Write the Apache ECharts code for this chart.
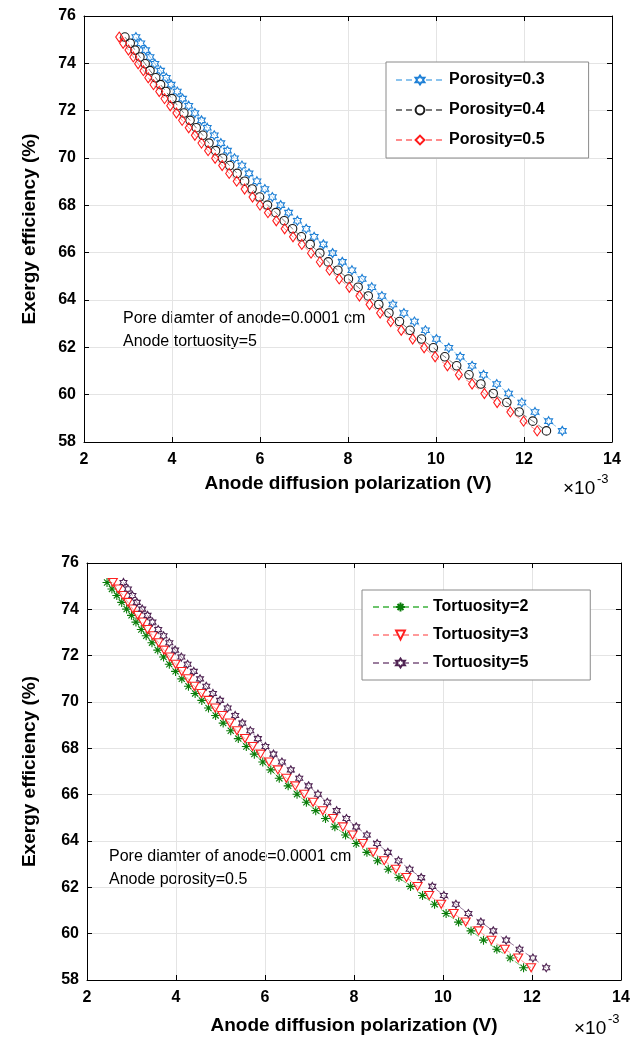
<!DOCTYPE html>
<html>
<head>
<meta charset="utf-8">
<script src="https://cdn.jsdelivr.net/npm/echarts@6/dist/echarts.min.js"></script>
<style>
html, body { margin: 0; padding: 0; background: #fff; }
#chart { width: 635px; height: 1039px; }
</style>
</head>
<body>
<div id="chart"></div>
<script>
// exergy efficiency (%) at each point
var yTop = [75.11, 74.85, 74.56, 74.27, 73.98, 73.69, 73.39, 73.10, 72.81, 72.51,
    72.21, 71.90, 71.59, 71.28, 70.96, 70.63, 70.31, 69.99, 69.68, 69.35,
    69.02, 68.69, 68.35, 68.01, 67.69, 67.35, 67.01, 66.67, 66.35, 65.98,
    65.61, 65.26, 64.89, 64.54, 64.17, 63.81, 63.45, 63.09, 62.72, 62.35,
    61.98, 61.60, 61.22, 60.84, 60.45, 60.05, 59.67, 59.27, 58.88, 58.47];
var yBottom = [75.16, 74.88, 74.60, 74.30, 74.01, 73.74, 73.45, 73.13, 72.86, 72.56,
    72.24, 71.94, 71.63, 71.32, 71.00, 70.68, 70.37, 70.07, 69.74, 69.42,
    69.09, 68.76, 68.42, 68.08, 67.75, 67.41, 67.07, 66.71, 66.38, 66.02,
    65.67, 65.31, 64.97, 64.61, 64.26, 63.89, 63.51, 63.15, 62.78, 62.42,
    62.04, 61.65, 61.27, 60.87, 60.50, 60.12, 59.72, 59.33, 58.95, 58.53];

// anode diffusion polarization (x 10^-3 V)
var xPorosity03 = [3.18, 3.29, 3.40, 3.50, 3.61, 3.74, 3.87, 3.98, 4.12, 4.24,
    4.38, 4.52, 4.67, 4.80, 4.96, 5.11, 5.26, 5.42, 5.59, 5.75,
    5.93, 6.11, 6.28, 6.47, 6.65, 6.85, 7.05, 7.23, 7.44, 7.65,
    7.87, 8.09, 8.32, 8.54, 8.77, 9.02, 9.27, 9.51, 9.76, 10.01,
    10.29, 10.55, 10.82, 11.08, 11.38, 11.65, 11.95, 12.25, 12.56, 12.87];
var xPorosity04 = [2.93, 3.05, 3.16, 3.27, 3.39, 3.50, 3.63, 3.74, 3.86, 4.00,
    4.13, 4.27, 4.41, 4.55, 4.70, 4.84, 4.99, 5.15, 5.31, 5.48,
    5.65, 5.82, 5.99, 6.17, 6.36, 6.55, 6.74, 6.94, 7.14, 7.36,
    7.55, 7.77, 8.01, 8.23, 8.46, 8.70, 8.93, 9.17, 9.41, 9.67,
    9.94, 10.20, 10.47, 10.75, 11.02, 11.30, 11.61, 11.89, 12.20, 12.51];
var xPorosity05 = [2.80, 2.89, 3.01, 3.12, 3.23, 3.35, 3.46, 3.58, 3.71, 3.83,
    3.96, 4.10, 4.23, 4.38, 4.52, 4.67, 4.82, 4.98, 5.14, 5.30,
    5.47, 5.65, 5.83, 6.00, 6.18, 6.37, 6.56, 6.75, 6.95, 7.16,
    7.36, 7.58, 7.80, 8.03, 8.26, 8.49, 8.73, 8.97, 9.21, 9.47,
    9.73, 9.98, 10.26, 10.52, 10.82, 11.10, 11.39, 11.69, 11.99, 12.30];

var xTortuosity2 = [2.45, 2.56, 2.67, 2.78, 2.89, 3.00, 3.10, 3.22, 3.33, 3.46,
    3.59, 3.72, 3.85, 3.99, 4.13, 4.28, 4.43, 4.58, 4.73, 4.89,
    5.06, 5.23, 5.40, 5.58, 5.76, 5.95, 6.13, 6.32, 6.52, 6.72,
    6.93, 7.14, 7.36, 7.57, 7.81, 8.05, 8.29, 8.53, 8.77, 9.01,
    9.27, 9.54, 9.81, 10.07, 10.35, 10.63, 10.91, 11.21, 11.51, 11.81];
var xTortuosity3 = [2.58, 2.70, 2.81, 2.92, 3.03, 3.14, 3.25, 3.36, 3.48, 3.61,
    3.73, 3.86, 3.99, 4.13, 4.27, 4.41, 4.57, 4.73, 4.88, 5.04,
    5.21, 5.37, 5.55, 5.72, 5.90, 6.09, 6.29, 6.48, 6.68, 6.88,
    7.08, 7.30, 7.53, 7.75, 7.97, 8.20, 8.43, 8.68, 8.94, 9.18,
    9.43, 9.69, 9.96, 10.24, 10.51, 10.80, 11.09, 11.39, 11.69, 11.98];
var xTortuosity5 = [2.82, 2.92, 3.02, 3.12, 3.24, 3.36, 3.47, 3.60, 3.72, 3.85,
    3.98, 4.12, 4.26, 4.40, 4.54, 4.68, 4.83, 4.99, 5.16, 5.33,
    5.49, 5.67, 5.84, 6.01, 6.19, 6.38, 6.58, 6.77, 6.98, 7.19,
    7.40, 7.61, 7.83, 8.05, 8.29, 8.52, 8.76, 9.00, 9.25, 9.51,
    9.76, 10.02, 10.29, 10.57, 10.85, 11.13, 11.42, 11.72, 12.02, 12.32];

var topNames = ['Porosity=0.3', 'Porosity=0.4', 'Porosity=0.5'];
var bottomNames = ['Tortuosity=2', 'Tortuosity=3', 'Tortuosity=5'];

var FONT = "'Liberation Sans', Arial, Helvetica, sans-serif";
var HEXAGRAM = 'path://M10,0 L12.89,5 L18.66,5 L15.77,10 L18.66,15 L12.89,15 L10,20 L7.11,15 L1.34,15 L4.23,10 L1.34,5 L7.11,5 Z';
var ASTERISK = 'path://M5,0 L5,10 M0,5 L10,5 M1.6,1.6 L8.4,8.4 M8.4,1.6 L1.6,8.4';

function pairs(xs, ys) {
    var out = [];
    for (var i = 0; i < xs.length; i++) {
        out.push([xs[i], ys[i]]);
    }
    return out;
}

function makeSeries(name, xs, ys, axis, symbol, size, color, lineColor, rotate) {
    return {
        name: name,
        type: 'line',
        xAxisIndex: axis,
        yAxisIndex: axis,
        data: pairs(xs, ys),
        symbol: symbol,
        symbolSize: size,
        symbolRotate: rotate || 0,
        symbolKeepAspect: true,
        showAllSymbol: true,
        itemStyle: { color: 'rgba(0,0,0,0)', borderColor: color, borderWidth: 1.1 },
        lineStyle: { color: lineColor, width: 1, type: [6, 4] },
        emphasis: { disabled: true }
    };
}

function xAxes(g, nameGap) {
    var line = { show: true, onZero: false, lineStyle: { color: '#000', width: 1 } };
    var tick = { show: true, inside: true, length: 5, lineStyle: { color: '#000' } };
    return [{
        gridIndex: g, type: 'value', position: 'bottom', min: 2, max: 14, interval: 2,
        name: 'Anode diffusion polarization (V)', nameLocation: 'middle', nameGap: nameGap,
        nameTextStyle: { fontFamily: FONT, fontSize: 19, fontWeight: 'bold', color: '#000' },
        axisLine: line, axisTick: tick,
        axisLabel: { fontFamily: FONT, fontSize: 16, fontWeight: 'bold', color: '#000', margin: 10 },
        splitLine: { show: true, lineStyle: { color: '#e4e4e4', width: 1 } }
    }, {
        gridIndex: g, type: 'value', position: 'top', min: 2, max: 14, interval: 2,
        axisLine: line, axisTick: tick, axisLabel: { show: false }, splitLine: { show: false }
    }];
}

function yAxes(g, nameGap) {
    var line = { show: true, onZero: false, lineStyle: { color: '#000', width: 1 } };
    var tick = { show: true, inside: true, length: 5, lineStyle: { color: '#000' } };
    return [{
        gridIndex: g, type: 'value', position: 'left', min: 58, max: 76, interval: 2,
        name: 'Exergy efficiency (%)', nameLocation: 'middle', nameGap: nameGap,
        nameTextStyle: { fontFamily: FONT, fontSize: 19, fontWeight: 'bold', color: '#000' },
        axisLine: line, axisTick: tick,
        axisLabel: { fontFamily: FONT, fontSize: 16, fontWeight: 'bold', color: '#000', margin: 8 },
        splitLine: { show: true, lineStyle: { color: '#e4e4e4', width: 1 } }
    }, {
        gridIndex: g, type: 'value', position: 'right', min: 58, max: 76, interval: 2,
        axisLine: line, axisTick: tick, axisLabel: { show: false }, splitLine: { show: false }
    }];
}

function legendBox(names, left, top, padding, itemWidth, itemGap) {
    return {
        data: names,
        orient: 'vertical',
        left: left,
        top: top,
        padding: padding,
        itemWidth: itemWidth,
        itemHeight: 11,
        itemGap: itemGap,
        borderColor: '#8a8a8a',
        borderWidth: 1,
        borderRadius: 0,
        backgroundColor: '#fff',
        selectedMode: false,
        itemStyle: { color: '#fff' },
        textStyle: { fontFamily: FONT, fontSize: 16, fontWeight: 'bold', color: '#000' }
    };
}

function note(text, left, top, size) {
    return {
        type: 'text', left: left, top: top,
        style: { text: text, fontFamily: FONT, fontSize: size, fill: '#000' }
    };
}

var chart = echarts.init(document.getElementById('chart'));

var xa = xAxes(0, 32).concat(xAxes(1, 36));
var ya = yAxes(0, 45).concat(yAxes(1, 48));

option = {
    animation: false,
    backgroundColor: '#fff',
    grid: [
        { left: 84, top: 16, width: 528, height: 426 },
        { left: 87, top: 563, width: 534, height: 417 }
    ],
    xAxis: xa,
    yAxis: ya,
    legend: [
        legendBox(topNames, 386, 62, [10, 44, 10, 9], 48, 14),
        legendBox(bottomNames, 362, 590, [9, 62, 9, 10], 55, 12)
    ],
    series: [
        makeSeries(topNames[0], xPorosity03, yTop, 0, HEXAGRAM, 9, '#1f80d6', '#8cc4ee'),
        makeSeries(topNames[1], xPorosity04, yTop, 0, 'circle', 8.5, '#1a1a1a', '#7a7a7a'),
        makeSeries(topNames[2], xPorosity05, yTop, 0, 'diamond', [7, 10], '#ff1a1a', '#ff8c8c'),
        makeSeries(bottomNames[0], xTortuosity2, yBottom, 2, ASTERISK, 9, '#0a7d0a', '#6cc46c'),
        makeSeries(bottomNames[1], xTortuosity3, yBottom, 2, 'triangle', [9, 8], '#ff2020', '#ff9a9a', 180),
        makeSeries(bottomNames[2], xTortuosity5, yBottom, 2, HEXAGRAM, 8, '#4f2352', '#9b7e9e')
    ],
    graphic: [
        note('Pore diamter of anode=0.0001 cm', 123, 311, 16),
        note('Anode tortuosity=5', 123, 334, 16),
        note('Pore diamter of anode=0.0001 cm', 109, 849, 16),
        note('Anode porosity=0.5', 109, 872, 16),
        note('\u00d710', 563, 479, 19),
        note('-3', 597, 473, 13),
        note('\u00d710', 574, 1019, 19),
        note('-3', 608, 1013, 13)
    ]
};

chart.setOption(option);
</script>
</body>
</html>
